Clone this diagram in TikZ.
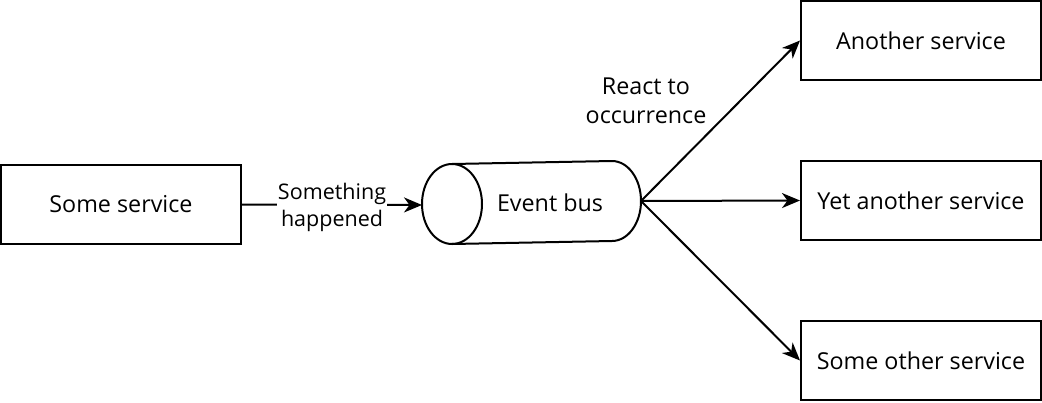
\documentclass[tikz,border=0pt]{standalone}
\usepackage{fontspec}
\setmainfont{Open Sans}
\usetikzlibrary{arrows.meta}
\begin{document}
\begin{tikzpicture}[x=1pt,y=-1pt,
  box/.style={draw,line width=2pt,minimum width=240pt,minimum height=79pt,inner sep=0pt,font=\fontsize{23.3}{27}\selectfont},
  conn/.style={line width=2pt,-{Stealth[length=18pt,width=15pt,inset=5.5pt]}},
  lbl/.style={font=\fontsize{23.3}{28.5}\selectfont,align=center},
  small/.style={font=\fontsize{21.5}{27}\selectfont,align=center,fill=white,inner sep=1pt}]
\useasboundingbox (0,0) rectangle (1042,402);
\node[box] (some) at (121,204.5) {Some service};
\node[box] (another) at (921,40.5) {Another service};
\node[box] (yet) at (921,200.5) {Yet another service};
\node[box] (other) at (921,360.5) {Some other service};
% cylinder
\draw[line width=2pt] (452,164) -- (612,161) arc[start angle=-90,end angle=90,x radius=29,y radius=40] -- (452,244);
\draw[line width=2pt] (452,204) ellipse[x radius=30,y radius=40];
\node[lbl] (bus) at (550,203) {Event bus};
\coordinate (busL) at (422,205);
\coordinate (busR) at (641,201);
\draw[conn] (some.east) -- node[small,yshift=-2.5pt] {Something\\happened} (busL);
\draw[conn] (busR) -- (another.west);
\draw[conn] (busR) -- (yet.west);
\draw[conn] (busR) -- (other.west);
\node[lbl] (react) at (646,101) {React to\\occurrence};
\end{tikzpicture}
\end{document}
